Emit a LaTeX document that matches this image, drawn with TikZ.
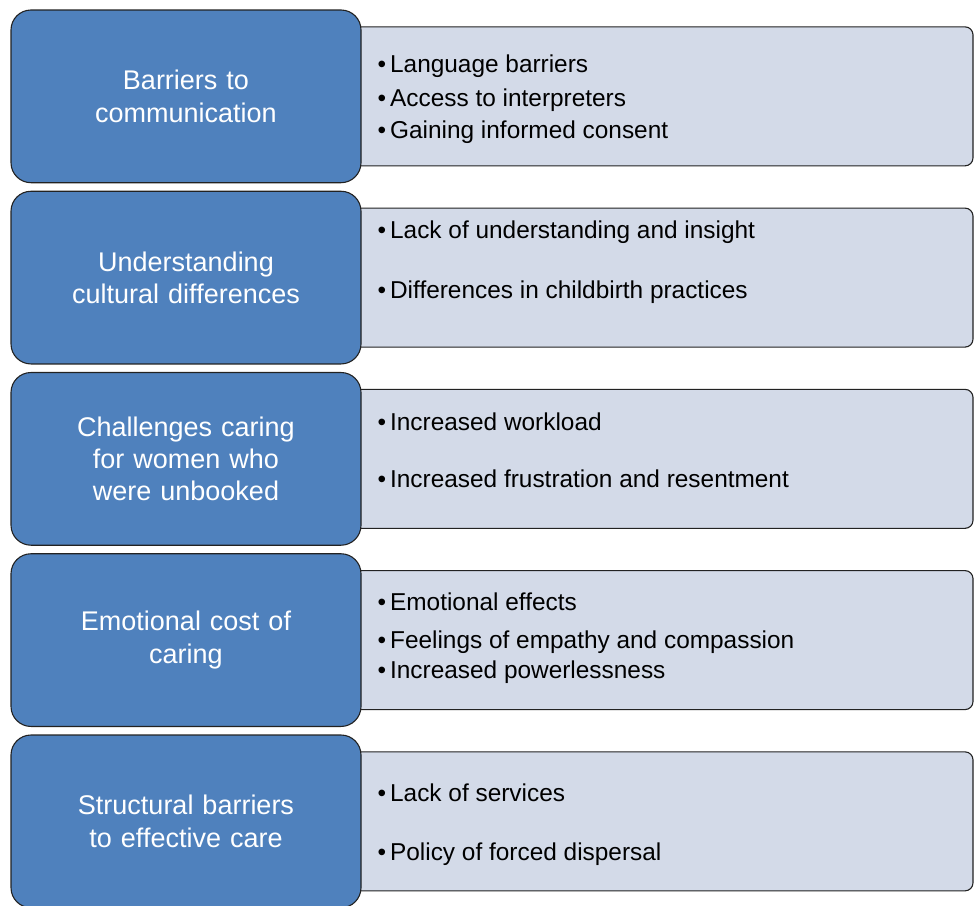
\documentclass[tikz,border=0pt]{standalone}
\usepackage{fontspec}
\setmainfont{Liberation Sans}
\usetikzlibrary{positioning}

\definecolor{catblue}{HTML}{4F81BD}
\definecolor{listgrey}{HTML}{D3DAE8}
\definecolor{edgedark}{HTML}{222222}

\tikzset{
  catbox/.style={draw=edgedark, line width=1.1pt, fill=catblue, rounded corners=20pt,
    minimum width=350pt, minimum height=172.7pt, text width=330pt, inner sep=0pt,
    align=center, text=white, font=\fontsize{27}{32.4}\selectfont},
  listbox/.style={draw=edgedark, line width=1.1pt, fill=listgrey, rounded corners=8pt,
    minimum width=633pt, minimum height=139pt, inner sep=0pt},
  bullettext/.style={anchor=base west, inner sep=0pt, font=\fontsize{24.4}{29}\selectfont},
}
\newcommand{\bul}{\textbullet\hspace{4pt}}

\begin{document}
\begin{tikzpicture}[x=1pt,y=-1pt]
        \clip (0,0) rectangle (974,905);
        % right-hand lists
        \node[listbox] (lst_1) at (656.5,96.35)  {};
        \node[listbox] (lst_2) at (656.5,277.6)  {};
        \node[listbox] (lst_3) at (656.5,458.85) {};
        \node[listbox] (lst_4) at (656.5,640.1)  {};
        \node[listbox] (lst_5) at (656.5,821.35) {};
        % left-hand themes
        \node[catbox] (cat_1) at (186,96.35)  {Barriers to\\communication};
        \node[catbox] (cat_2) at (186,277.6)  {Understanding\\cultural differences};
        \node[catbox] (cat_3) at (186,458.85) {Challenges caring\\for women who\\were unbooked};
        \node[catbox] (cat_4) at (186,640.1)  {Emotional cost of\\caring};
        \node[catbox] (cat_5) at (186,821.35) {Structural barriers\\to effective care};
        % bullet points
        \node[bullettext] (it_1a) at (377.4,72)    {\bul Language barriers};
        \node[bullettext] (it_1b) at (377.4,106.7) {\bul Access to interpreters};
        \node[bullettext] (it_1c) at (377.4,138.3) {\bul Gaining informed consent};
        \node[bullettext] (it_2a) at (377.4,238.3) {\bul Lack of understanding and insight};
        \node[bullettext] (it_2b) at (377.4,298.3) {\bul Differences in childbirth practices};
        \node[bullettext] (it_3a) at (377.4,430)   {\bul Increased workload};
        \node[bullettext] (it_3b) at (377.4,487.7) {\bul Increased frustration and resentment};
        \node[bullettext] (it_4a) at (377.4,610)   {\bul Emotional effects};
        \node[bullettext] (it_4b) at (377.4,648.3) {\bul Feelings of empathy and compassion};
        \node[bullettext] (it_4c) at (377.4,678.3) {\bul Increased powerlessness};
        \node[bullettext] (it_5a) at (377.4,801.7) {\bul Lack of services};
        \node[bullettext] (it_5b) at (377.4,860.7) {\bul Policy of forced dispersal};
    \end{tikzpicture}
\end{document}
